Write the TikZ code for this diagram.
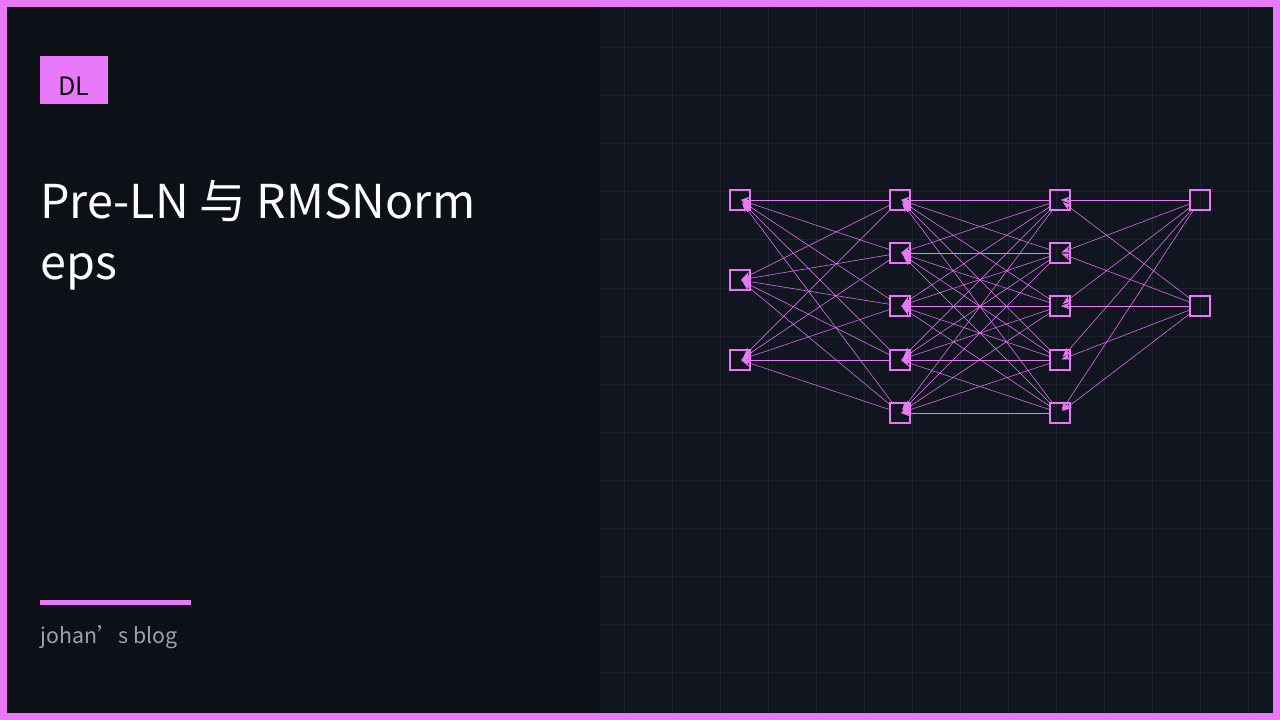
\documentclass[tikz,border=0pt]{standalone}
\usepackage{fontspec}
\setmainfont{Noto Sans CJK SC}
\usetikzlibrary{arrows.meta}
\definecolor{pinkish}{HTML}{E879F9}
\definecolor{leftbg}{HTML}{0D1017}
\definecolor{rightbg}{HTML}{111520}
\definecolor{gridc}{HTML}{1E2331}
\definecolor{subgray}{HTML}{9CA3AF}
\tikzset{
  unit/.style = {draw = pinkish, line width = 1.1pt, minimum size = 15pt, inner sep = 0pt},
  link/.style = {draw = pinkish, line width = 0.4pt, -{Stealth[length = 7pt, width = 5pt]}, shorten >= -7.5pt}
}
\begin{document}
\begin{tikzpicture}[x = 0.75pt, y = -0.75pt]
\useasboundingbox (0,0) rectangle (1280,720);
\fill[leftbg] (0,0) rectangle (600,720);
\fill[rightbg] (600,0) rectangle (1280,720);
\foreach \gx in {624,672,...,1272} \draw[gridc, line width = 0.75pt] (\gx,0) -- (\gx,720);
\foreach \gy in {48,96,...,700} \draw[gridc, line width = 0.75pt] (600,\gy) -- (1280,\gy);
\draw[pinkish, line width = 6pt] (3,3) rectangle (1277,717);
% tag and title
\fill[pinkish] (40,56) rectangle (108,104);
\node[anchor = base, text = leftbg, font = \fontsize{19}{20}\selectfont] (tag) at (74,96) {DL};
\node[anchor = base west, inner sep = 0pt, text = white, font = \fontsize{35}{40}\selectfont] (title) at (40,219) {Pre-LN 与 RMSNorm};
\node[anchor = base west, inner sep = 0pt, text = white, font = \fontsize{35}{40}\selectfont] (title2) at (40,279) {eps};
\fill[pinkish] (40,600) rectangle (191,605);
\node[anchor = base west, inner sep = 0pt, text = subgray, font = \fontsize{16}{18}\selectfont] (blog) at (40,643) {johan's blog};
% network
\node[unit] (a1) at (740,200) {};
\node[unit] (a2) at (740,280) {};
\node[unit] (a3) at (740,360) {};
\foreach \i/\yy in {1/200,2/253,3/306,4/360,5/413} {
  \node[unit] (b\i) at (900,\yy) {};
  \node[unit] (c\i) at (1060,\yy) {};
}
\node[unit] (d1) at (1200,200) {};
\node[unit] (d2) at (1200,306) {};
\foreach \i in {1,2,3} \foreach \j in {1,...,5} \draw[link] (b\j) -- (a\i);
\foreach \i in {1,...,5} \foreach \j in {1,...,5} \draw[link] (c\j) -- (b\i);
\foreach \i in {1,...,5} \foreach \j in {1,2} \draw[link] (d\j) -- (c\i);
\end{tikzpicture}
\end{document}
